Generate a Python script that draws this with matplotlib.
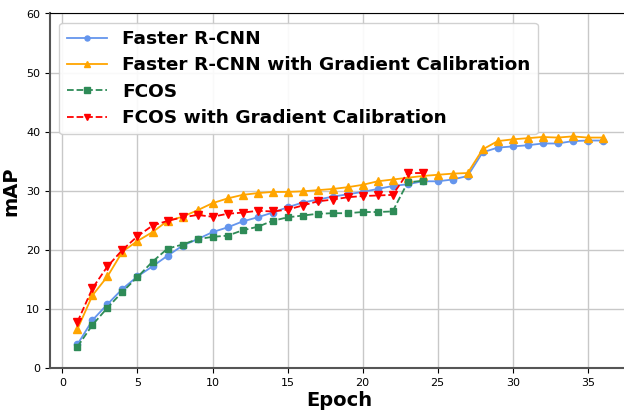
import matplotlib
matplotlib.use("Agg")
import matplotlib.pyplot as plt

# epochs and mAP per model
epochs = list(range(1, 37))

faster_rcnn = [4.0, 8.1, 10.8, 13.4, 15.5, 17.2, 19.0, 20.7, 21.8, 23.0, 23.8, 24.8,
               25.5, 26.3, 27.2, 28.0, 28.5, 29.0, 29.4, 29.8, 30.3, 30.8, 31.1, 31.6,
               31.6, 31.9, 32.5, 36.5, 37.3, 37.5, 37.7, 38.0, 38.0, 38.4, 38.5, 38.5]
faster_rcnn_gc = [6.6, 12.3, 15.5, 19.7, 21.5, 23.0, 24.9, 25.6, 26.7, 27.9, 28.7, 29.3,
                  29.6, 29.8, 29.8, 29.9, 30.1, 30.3, 30.6, 31.0, 31.6, 31.9, 32.2, 32.5,
                  32.7, 32.9, 33.0, 37.0, 38.4, 38.7, 38.9, 39.1, 39.0, 39.2, 39.0, 39.0]
fcos = [3.6, 7.3, 10.2, 12.9, 15.4, 18.0, 20.2, 20.9, 21.8, 22.2, 22.4, 23.3,
        23.9, 24.9, 25.5, 25.8, 26.1, 26.2, 26.2, 26.4, 26.4, 26.5, 31.4, 31.7]
fcos_gc = [7.8, 13.5, 17.2, 20.0, 22.3, 24.1, 24.9, 25.5, 25.9, 25.6, 26.1, 26.3,
           26.6, 26.5, 26.8, 27.5, 28.2, 28.5, 28.9, 29.1, 29.2, 29.3, 33.0, 33.0]

fig = plt.figure(figsize=(6.24, 4.11), dpi=100)
ax = fig.add_axes([50 / 624, 43 / 411, 579 / 624, 354.5 / 411])

ax.plot(epochs, faster_rcnn, '-o', color='cornflowerblue', ms=4.5, lw=1.3, label="Faster R-CNN")
ax.plot(epochs, faster_rcnn_gc, '-^', color='orange', ms=5.5, lw=1.3,
        label="Faster R-CNN with Gradient Calibration")
ax.plot(epochs[:len(fcos)], fcos, '--s', color='seagreen', ms=5, lw=1.3, label="FCOS")
ax.plot(epochs[:len(fcos_gc)], fcos_gc, '--v', color='red', ms=5.5, lw=1.3,
        label="FCOS with Gradient Calibration")

ax.set_xlim(-0.83, 37.75)
ax.set_ylim(0, 60)
ax.set_xticks(range(0, 40, 5))
ax.set_yticks(range(0, 70, 10))
ax.tick_params(labelsize=8)
ax.grid(True, color='#c8c8c8', lw=1)
ax.set_axisbelow(True)
ax.spines['right'].set_visible(False)
for s in ['left', 'bottom']:
    ax.spines[s].set_color('#555555')
    ax.spines[s].set_linewidth(1.5)
ax.set_xlabel("Epoch", fontsize=14, fontweight='bold', labelpad=2)
ax.set_ylabel("mAP", fontsize=14, fontweight='bold', labelpad=4)

ax.legend(loc='upper left', prop={'size': 13.3, 'weight': 'bold'}, markerscale=0.8,
          handlelength=2.2, labelspacing=0.45, borderpad=0.4, framealpha=0.9)

plt.savefig("out.png", dpi=100)
